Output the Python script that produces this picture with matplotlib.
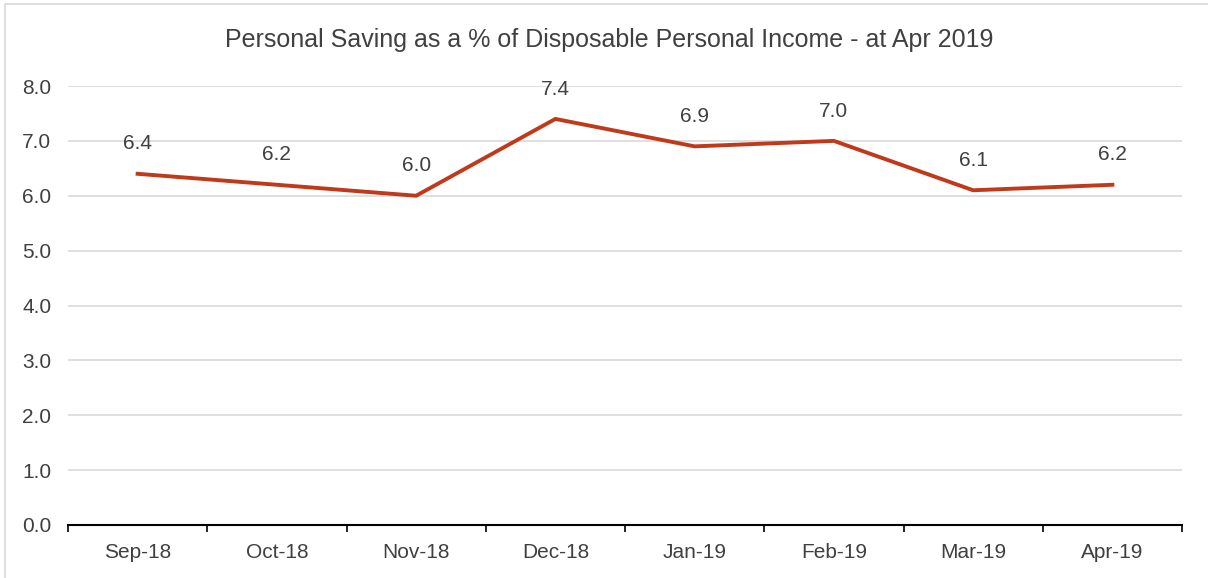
import matplotlib
matplotlib.use("Agg")
import matplotlib.pyplot as plt
from matplotlib.patches import Rectangle

categories = ["Sep-18", "Oct-18", "Nov-18", "Dec-18", "Jan-19", "Feb-19", "Mar-19", "Apr-19"]
values = [6.4, 6.2, 6.0, 7.4, 6.9, 7.0, 6.1, 6.2]
yticks = [0.0, 1.0, 2.0, 3.0, 4.0, 5.0, 6.0, 7.0, 8.0]
title = "Personal Saving as a % of Disposable Personal Income - at Apr 2019"

plt.rcParams['font.family'] = ['Liberation Sans', 'DejaVu Sans']
W, H = 1208, 578
fig = plt.figure(figsize=(W/100, H/100), dpi=100)
fig.patches.append(Rectangle((5/W, -0.01), 1.1, (578-4)/H + 0.01, transform=fig.transFigure,
                             fill=False, edgecolor="#d9d9d9", linewidth=1.2))
ax = fig.add_axes([68/W, (H-525)/H, (1182-68)/W, (525-86)/H])

x = list(range(len(categories)))
ax.plot(x, values, color="#C0391B", linewidth=2.8, solid_joinstyle="miter", zorder=3)
for xi, v in zip(x, values):
    ax.annotate(f"{v:.1f}", (xi, v), xytext=(0, 21.5), textcoords="offset points",
                ha="center", va="center", fontsize=15, color="#404040")

ax.set_xlim(-0.5, len(categories) - 0.5)
ax.set_ylim(0, 8)
ax.set_yticks(yticks)
ax.set_yticklabels([f"{t:.1f}" for t in yticks])
ax.set_xticks(x)
ax.set_xticklabels(categories)
ax.set_xticks([i - 0.5 for i in range(len(categories) + 1)], minor=True)
ax.tick_params(axis="x", which="major", length=0, pad=13, labelsize=15, labelcolor="#404040")
ax.tick_params(axis="x", which="minor", length=5, width=1.2, color="black", direction="out")
ax.tick_params(axis="y", length=0, pad=12, labelsize=15, labelcolor="#404040")
ax.grid(axis="y", color="#d9d9d9", linewidth=1.2)
ax.set_axisbelow(True)
for s in ["top", "right", "left"]:
    ax.spines[s].set_visible(False)
ax.spines["bottom"].set_color("black")
ax.spines["bottom"].set_linewidth(1.5)
ax.spines["bottom"].set_zorder(4)

fig.text(609/W, 1 - 40/H, title, ha="center", va="center", fontsize=18, color="#404040")

fig.savefig("out.png", dpi=100)
